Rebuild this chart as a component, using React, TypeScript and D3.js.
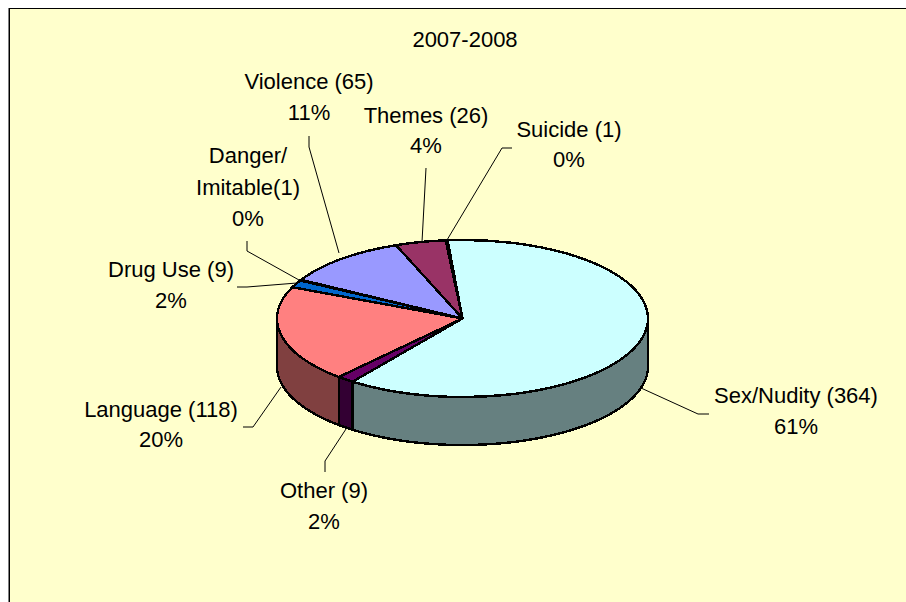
import * as d3 from 'd3';

const categories = ['Sex/Nudity', 'Other', 'Language', 'Drug Use', 'Danger', 'Violence', 'Themes', 'Suicide'];
const counts = [364, 9, 118, 9, 1, 65, 26, 1];
const percents = ['61%', '2%', '20%', '2%', '0%', '11%', '4%', '0%'];
const topColors = ['#CCFFFF', '#660066', '#FF8080', '#0066CC', '#CCCCFF', '#9999FF', '#993366', '#FFFFCC'];
const sideColors = ['#668080', '#330033', '#804040', '#003366', '#666680', '#4D4D80', '#4D1A33', '#808066'];

// label block per slice: first lines, centre x, baseline of each line
const labelNames = [
  ['Sex/Nudity (364)'], ['Other (9)'], ['Language (118)'], ['Drug Use (9)'],
  ['Danger/', 'Imitable(1)'], ['Violence (65)'], ['Themes (26)'], ['Suicide (1)'],
];
const labelX = [796, 324, 161, 171, 248, 309, 426, 569];
const labelY = [403, 498, 417, 277, 163, 89, 123, 137];
const lineGaps = [31, 31, 30, 31, 31.5, 31, 30, 30];

const leaders: [number, number][][] = [
  [[641, 388], [698, 414], [709, 414]],
  [[346, 429], [325, 461], [325, 472]],
  [[281, 387], [253, 427], [243, 427]],
  [[297, 283], [247, 287], [237, 287]],
  [[299, 280], [247, 251], [247, 241]],
  [[339, 253], [309, 147], [309, 136]],
  [[422, 242], [426, 168]],
  [[447, 240], [502, 148], [512, 148]],
];

const cx = 462.5;
const cy = 318.5;
const rx = 185.5;
const ry = 78.5;
const depth = 48;
const startAngle = (-4.6 * Math.PI) / 180;

export default function App() {
  const arcs = d3.pie<number>().sort(null)
    .startAngle(startAngle)
    .endAngle(startAngle + 2 * Math.PI)(counts);

  const top = d3.arc<d3.PieArcDatum<number>>().innerRadius(0).outerRadius(rx);

  // front wall: only the part of each slice between 90 and 270 degrees shows
  const rim = d3.line<[number, number]>();
  const sidePath = (a0: number, a1: number) => {
    const from = Math.max(a0, Math.PI / 2);
    const to = Math.min(a1, (3 * Math.PI) / 2);
    if (to <= from) return null;
    const n = Math.ceil((to - from) * 60);
    const edge = d3.range(n + 1).map(i => {
      const a = from + ((to - from) * i) / n;
      return [cx + rx * Math.sin(a), cy - ry * Math.cos(a)] as [number, number];
    });
    const lower = edge.slice().reverse().map(([x, y]) => [x, y + depth] as [number, number]);
    return rim([...edge, ...lower]) + 'Z';
  };

  const text = { fontFamily: '"Liberation Sans", Arial, sans-serif', fontSize: 22, fill: '#000', textAnchor: 'middle' as const };

  return (
    <svg width={906} height={602} style={{ position: 'absolute', left: 0, top: 0 }}>
      <rect x={0} y={0} width={906} height={602} fill="#fff" />
      <rect x={8} y={8} width={898} height={594} fill="#808080" />
      <rect x={9} y={8} width={897} height={594} fill="#000" />
      <rect x={10} y={9} width={896} height={593} fill="#FFFFCC" />

      {leaders.map((pts, i) => (
        <path key={i} d={d3.line()(pts)!} fill="none" stroke="#000" strokeWidth={1} />
      ))}

      <g shapeRendering="crispEdges" stroke="#000" strokeWidth={2.4} strokeLinejoin="round">
        {arcs.map((d, i) => {
          const p = sidePath(d.startAngle, d.endAngle);
          return p ? <path key={i} d={p} fill={sideColors[i]} /> : null;
        })}
        {arcs.map((d, i) => (
          <path
            key={i}
            d={top(d)!}
            fill={topColors[i]}
            transform={`translate(${cx},${cy}) scale(1,${ry / rx})`}
            vectorEffect="non-scaling-stroke"
          />
        ))}
      </g>

      <text x={465} y={47} {...text}>2007-2008</text>
      {categories.map((c, i) => {
        const lines = [...labelNames[i], percents[i]];
        return (
          <text key={c} {...text}>
            {lines.map((l, j) => (
              <tspan key={j} x={labelX[i]} y={labelY[i] + j * lineGaps[i]}>{l}</tspan>
            ))}
          </text>
        );
      })}
    </svg>
  );
}
